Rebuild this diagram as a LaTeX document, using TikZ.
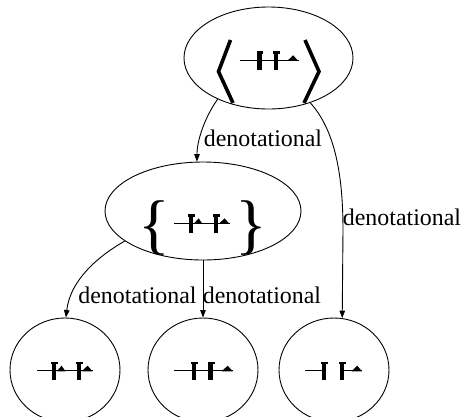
\documentclass[tikz,border=0pt]{standalone}
\usepackage{fontspec}
\setmainfont{Liberation Serif}
\usetikzlibrary{shapes.geometric,arrows.meta}

\tikzset{
  state/.style={draw, ellipse, line width=0.9pt, inner sep=0pt},
  edge/.style={draw, line width=0.9pt, -{Triangle[length=7.5pt,width=5.5pt]}},
  lbl/.style={font=\fontsize{23.9}{28}\selectfont, inner sep=0pt},
  bracefont/.style={font=\fontsize{66}{72}\selectfont, inner sep=0pt},
  wire/.style={line width=1.4pt},
  bracket/.style={line width=3.6pt, miter limit=10},
}
% a thick contact bar with a small flag at its top, left edge at x = #1
\newcommand\contactbar[1]{\fill (#1,-9) rectangle ++(4.6,18.3); \fill (#1-0.6,-9) rectangle ++(6.8,2.6);}
% a small filled tip sitting on the wire, from x = #1 to x = #2
\newcommand\wiretip[2]{\fill (#1,0.6) -- ({(#1+#2)/2+0.5},-5) -- (#2,0.6) -- cycle;}
% wire, two bars, tip
\newcommand\glyphseries{%
  \draw[wire] (-29,0) -- (30,0);
  \contactbar{-11.3}\contactbar{5.3}\wiretip{18.7}{29.7}}
% wire, bar, tip, repeated twice
\newcommand\glyphpair{%
  \draw[wire] (-28,0) -- (27.5,0);
  \contactbar{-13.3}\wiretip{-8.3}{0.5}\contactbar{11.7}\wiretip{16.7}{27.5}}
% wire broken between the two bars
\newcommand\glyphopen{%
  \draw[wire] (-29,0) -- (-10,0);
  \draw[wire] (8,0) -- (28,0);
  \contactbar{-12.3}\contactbar{5.7}\wiretip{17.5}{28}}

\begin{document}
\begin{tikzpicture}[x=1pt,y=-1pt]
\useasboundingbox (0,0) rectangle (461,416);

% states
\node[state, minimum width=169pt, minimum height=102pt] (root) at (268.5,58) {};
\node[state, minimum width=196pt, minimum height=98pt] (mid) at (203,211) {};
\node[state, minimum width=110pt, minimum height=104pt] (leafA) at (65,370) {};
\node[state, minimum width=110pt, minimum height=104pt] (leafB) at (203,370) {};
\node[state, minimum width=110pt, minimum height=104pt] (leafC) at (334,370) {};

% contents of the root state
\draw[bracket] (230.5,40) -- (218.5,71.5) -- (233,103);
\draw[bracket] (305,40) -- (319,71.5) -- (304,103);
\begin{scope}[shift={(268.5,60.3)}] \glyphseries \end{scope}

% contents of the middle state
\node[bracefont] (lbrace) at (154,228) {\{};
\node[bracefont] (rbrace) at (251,228) {\}};
\begin{scope}[shift={(202,223.3)}] \glyphpair \end{scope}

% contents of the leaves
\begin{scope}[shift={(65,370.7)}] \glyphpair \end{scope}
\begin{scope}[shift={(203,370.7)}] \glyphseries \end{scope}
\begin{scope}[shift={(334,370.7)}] \glyphopen \end{scope}

% transitions
\draw[edge] (root.219) .. controls (205,117) and (197,140) .. (mid.97);
\draw[edge] (root.313) .. controls (335,130) and (343,175) .. (343,230) -- (leafC.81);
\draw[edge] (mid.201) .. controls (95,258) and (70,282) .. (leafA.89);
\draw[edge] (mid) -- (leafB);

% labels
\node[lbl] (l1) at (263,138) {denotational};
\node[lbl] (l2) at (402,217) {denotational};
\node[lbl] (l3) at (137.5,295) {denotational};
\node[lbl] (l4) at (262,295) {denotational};
\end{tikzpicture}
\end{document}
